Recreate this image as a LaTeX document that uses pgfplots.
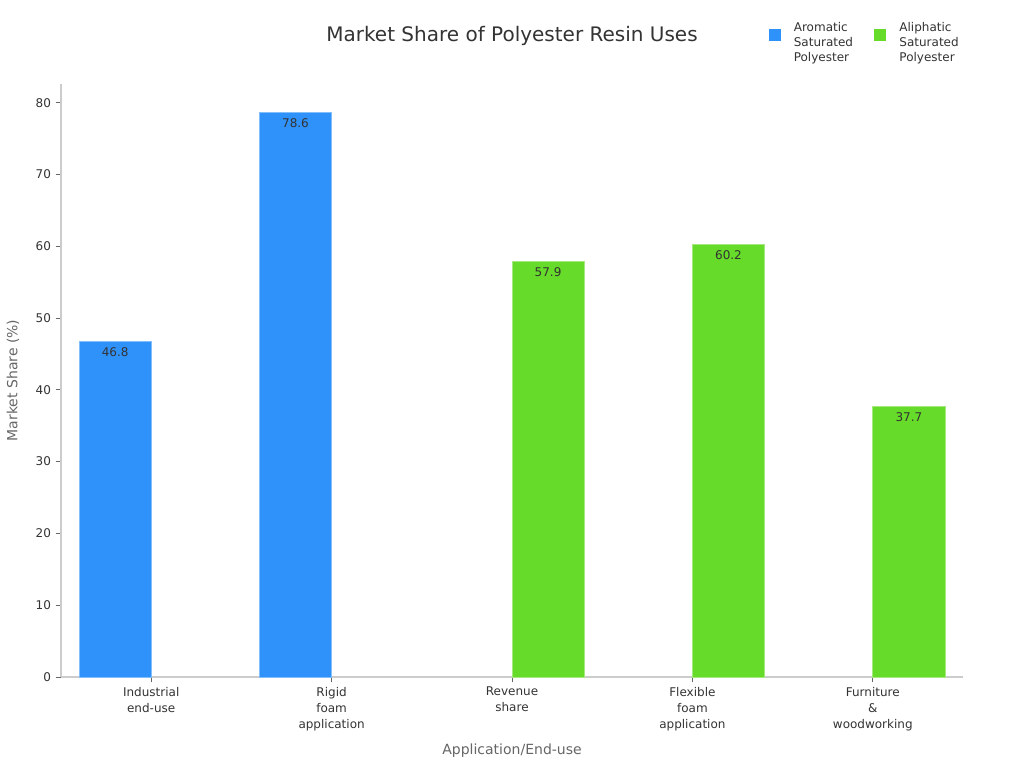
\documentclass[border=0pt]{standalone}
\usepackage{pgfplots}
\pgfplotsset{compat=1.18}
\usepackage{fontspec}
\setmainfont{DejaVu Sans}
\definecolor{blueA}{HTML}{2F91FA}
\definecolor{greenA}{HTML}{66DB29}
\definecolor{txt}{HTML}{333333}
\definecolor{lab}{HTML}{666666}
\definecolor{axl}{HTML}{CCCCCC}
\newcommand\legtext[1]{{\fontsize{9}{11.25}\selectfont\begin{tabular}{@{}l@{}}#1\end{tabular}}}
\begin{document}
\begin{tikzpicture}
\path[use as bounding box] (0,0) rectangle (768pt,576pt);
\begin{axis}[
  at={(45.75pt,68.25pt)}, anchor=south west,
  scale only axis, width=676.5pt, height=444.75pt,
  xmin=-0.5, xmax=4.5, ymin=0, ymax=82.6,
  axis lines=left,
  axis line style={-, draw=axl, line width=0.8pt},
  tick align=outside, major tick length=4pt,
  tick style={draw=lab, line width=0.6pt},
  xtick={0,1,2,3,4},
  xticklabels={{Industrial\\end-use},{Rigid\\foam\\application},{Revenue\\share},{Flexible\\foam\\application},{Furniture\\\&\\woodworking}},
  xticklabel style={align=center, font=\fontsize{9}{12}\selectfont, text=txt},
  ytick={0,10,...,80},
  yticklabel style={font=\fontsize{9}{11}\selectfont, text=txt},
  /pgf/number format/assume math mode=true,
  title={Market Share of Polyester Resin Uses},
  title style={at={(axis description cs:0.5,1.044)}, font=\fontsize{15}{18}\selectfont, text=txt},
  xlabel={Application/End-use},
  xlabel style={at={(axis description cs:0.5,-0.1248)}, anchor=center, font=\fontsize{10.5}{12}\selectfont, text=lab},
  ylabel={Market Share (\%)},
  ylabel style={at={(axis description cs:-0.0532,0.5)}, anchor=center, font=\fontsize{10.5}{12}\selectfont, text=lab},
  legend style={at={(axis description cs:0.78,1.115)}, anchor=north west, draw=none,
    font=\fontsize{9}{11.25}\selectfont, text=txt,
    /tikz/every odd column/.append style={column sep=8pt},
    /tikz/every even column/.append style={column sep=14pt}},
  legend columns=2, legend cell align=left,
  nodes near coords,
  /pgf/number format/.cd, fixed, precision=1, /pgfplots/.cd,
  every node near coord/.append style={anchor=north, yshift=-1pt, font=\fontsize{9}{11}\selectfont, text=txt},
]
\addplot[ybar, bar width=0.4, bar shift=0pt, fill=blueA, draw=blueA!60!white, line width=0.5pt,
  legend image code/.code={\fill[blueA] (0pt,-4pt) rectangle (8.25pt,4.25pt);}]
  coordinates {(-0.2,46.8) (0.8,78.6)};
\addlegendentry{\legtext{Aromatic\\Saturated\\Polyester}}
\addplot[ybar, bar width=0.4, bar shift=0pt, fill=greenA, draw=greenA!60!white, line width=0.5pt,
  legend image code/.code={\fill[greenA] (0pt,-4pt) rectangle (8.25pt,4.25pt);}]
  coordinates {(2.2,57.9) (3.2,60.2) (4.2,37.7)};
\addlegendentry{\legtext{Aliphatic\\Saturated\\Polyester}}
\end{axis}
\end{tikzpicture}
\end{document}
